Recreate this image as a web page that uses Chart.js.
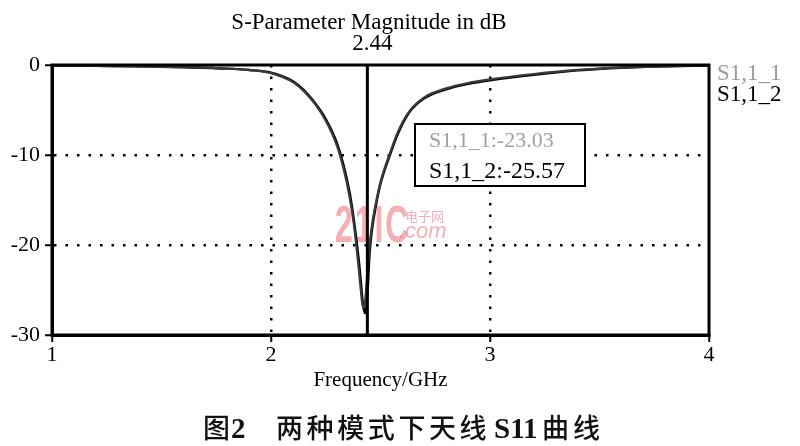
<!DOCTYPE html>
<html>
<head>
<meta charset="utf-8">
<script src="https://cdn.jsdelivr.net/npm/chart.js@4/dist/chart.umd.min.js"></script>
<style>
  html, body { margin: 0; padding: 0; background: #fff; }
  #wrap { position: relative; width: 800px; height: 446px; }
</style>
</head>
<body>
<div id="wrap"><canvas id="sChart"></canvas></div>
<script>
// dados (frequencia em GHz, magnitude em dB)
var frequencias = [1.0, 1.2, 1.4, 1.6, 1.8, 1.9, 2.0, 2.1, 2.15, 2.2, 2.25, 2.3, 2.33, 2.36, 2.38, 2.40, 2.41, 2.42, 2.43, 2.44, 2.45, 2.46, 2.48, 2.50, 2.54, 2.58, 2.63, 2.70, 2.80, 2.90, 3.0, 3.2, 3.4, 3.6, 3.8, 4.0];
var s11Modo1 = [-0.05, -0.1, -0.15, -0.25, -0.4, -0.55, -0.9, -1.9, -2.9, -4.3, -6.2, -8.9, -11.4, -14.8, -18.0, -22.5, -25.0, -27.0, -26.2, -23.03, -20.2, -18.0, -15.2, -13.0, -10.0, -7.4, -5.2, -3.6, -2.6, -2.0, -1.6, -1.0, -0.55, -0.3, -0.15, -0.05];
var s11Modo2 = [-0.05, -0.1, -0.15, -0.25, -0.4, -0.55, -0.85, -1.8, -2.8, -4.2, -6.0, -8.6, -11.0, -14.3, -17.5, -21.5, -24.0, -26.6, -27.6, -25.57, -21.0, -18.5, -15.5, -13.2, -10.2, -7.6, -5.3, -3.7, -2.7, -2.1, -1.7, -1.1, -0.6, -0.3, -0.15, -0.05];
var nomesSeries = ['S1,1_1', 'S1,1_2'];
var ticksX = [1, 2, 3, 4];
var ticksY = [0, -10, -20, -30];
var marcador = 2.44;

var serif = '"Liberation Serif", "DejaVu Serif", serif';
var cjk = '"Noto Sans CJK SC", sans-serif';

function pontos(vals) {
    return frequencias.map(function(f, i) { return { x: f, y: vals[i] }; });
}

// desenha caixa, marcador, textos e a marca d'agua
var extras = {
    id: 'extras',
    beforeDatasetsDraw: function(chart) {
        var c = chart.ctx;
        c.save();
        c.fillStyle = 'rgba(238,120,130,0.6)';
        c.textBaseline = 'alphabetic';
        c.save();
        c.translate(335, 242);
        c.scale(0.63, 1);
        c.font = 'bold 51px "Liberation Sans", sans-serif';
        c.letterSpacing = '3px';
        c.fillText('21IC', 0, 0);
        c.restore();
        c.font = '13px ' + cjk;
        c.fillText('电子网', 405, 221);
        c.font = 'italic 22px "Liberation Sans", sans-serif';
        c.fillText('.com', 399, 238);
        c.restore();
    },
    afterDraw: function(chart) {
        var c = chart.ctx;
        var a = chart.chartArea;
        var xs = chart.scales.x;
        c.save();
        // moldura
        c.strokeStyle = '#000';
        c.lineWidth = 3;
        c.strokeRect(a.left, a.top, a.right - a.left, a.bottom - a.top);
        // linha do marcador
        var mx = xs.getPixelForValue(marcador);
        c.beginPath();
        c.moveTo(mx, a.top);
        c.lineTo(mx, a.bottom);
        c.lineWidth = 3;
        c.stroke();

        c.fillStyle = '#000';
        c.textAlign = 'center';
        c.textBaseline = 'alphabetic';
        c.font = '23px ' + serif;
        c.fillText('S-Parameter Magnitude in dB', 369, 29);
        c.fillText(marcador.toFixed(2), mx + 5, 50);

        // legenda a direita
        c.textAlign = 'left';
        c.font = '23px ' + serif;
        c.fillStyle = '#9a9a9a';
        c.fillText(nomesSeries[0], 717, 80);
        c.fillStyle = '#000';
        c.fillText(nomesSeries[1], 717, 101);

        // caixa com valores no marcador
        var i = frequencias.indexOf(marcador);
        c.fillStyle = '#fff';
        c.fillRect(415, 124, 170, 62);
        c.lineWidth = 2;
        c.strokeRect(415, 124, 170, 62);
        c.font = '22px ' + serif;
        c.fillStyle = '#a0a0a0';
        c.fillText(nomesSeries[0] + ':' + s11Modo1[i].toFixed(2), 429, 147);
        c.font = '24px ' + serif;
        c.fillStyle = '#000';
        c.fillText(nomesSeries[1] + ':' + s11Modo2[i].toFixed(2), 429, 178);

        // legenda da figura
        c.fillStyle = '#111';
        c.font = '500 27px ' + cjk;
        c.fillText('图', 203, 438);
        c.font = 'bold 29px ' + serif;
        c.fillText('2', 231, 438);
        c.font = '500 27px ' + cjk;
        c.letterSpacing = '3.6px';
        c.fillText('两种模式下天线', 276, 438);
        c.letterSpacing = '0px';
        c.font = 'bold 29px ' + serif;
        c.fillText('S11', 494, 438);
        c.font = '500 27px ' + cjk;
        c.letterSpacing = '4px';
        c.fillText('曲线', 542, 438);
        c.restore();
    }
};

function gradeCor(ctx) {
    var v = ctx.tick && ctx.tick.value;
    return (v === 2 || v === 3 || v === -10 || v === -20) ? '#000' : 'rgba(0,0,0,0)';
}

var grafico = new Chart(document.getElementById('sChart'), {
    type: 'line',
    data: {
        datasets: [{
            label: nomesSeries[0],
            data: pontos(s11Modo1),
            borderColor: '#3a3a3a',
            borderWidth: 2.2,
            pointRadius: 0,
            cubicInterpolationMode: 'monotone'
        }, {
            label: nomesSeries[1],
            data: pontos(s11Modo2),
            borderColor: '#000',
            borderWidth: 2.4,
            pointRadius: 0,
            cubicInterpolationMode: 'monotone'
        }]
    },
    options: {
        responsive: true,
        maintainAspectRatio: false,
        animation: false,
        layout: { padding: { left: 0, right: 91, top: 65, bottom: 53 } },
        plugins: {
            legend: { display: false },
            tooltip: { enabled: false }
        },
        scales: {
            x: {
                type: 'linear',
                min: 1,
                max: 4,
                afterBuildTicks: function(s) { s.ticks = ticksX.map(function(v) { return { value: v }; }); },
                afterFit: function(s) { s.height = 58; },
                ticks: { color: '#000', font: { family: serif, size: 22 }, padding: 0, maxRotation: 0 },
                grid: { color: gradeCor, lineWidth: 2.5, tickColor: '#000', tickLength: 7, tickWidth: 2 },
                border: { display: true, color: '#000', width: 3, dash: [2.5, 9] },
                title: { display: true, text: 'Frequency/GHz', color: '#000', font: { family: serif, size: 21 }, padding: 0 }
            },
            y: {
                min: -30,
                max: 0,
                afterBuildTicks: function(s) { s.ticks = ticksY.map(function(v) { return { value: v }; }); },
                afterFit: function(s) { s.width = 52; },
                ticks: { color: '#000', font: { family: serif, size: 22 }, padding: 5 },
                grid: { color: gradeCor, lineWidth: 2.5, tickColor: '#000', tickLength: 7, tickWidth: 2 },
                border: { display: true, color: '#000', width: 3, dash: [2.5, 9] }
            }
        }
    },
    plugins: [extras]
});
</script>
</body>
</html>
